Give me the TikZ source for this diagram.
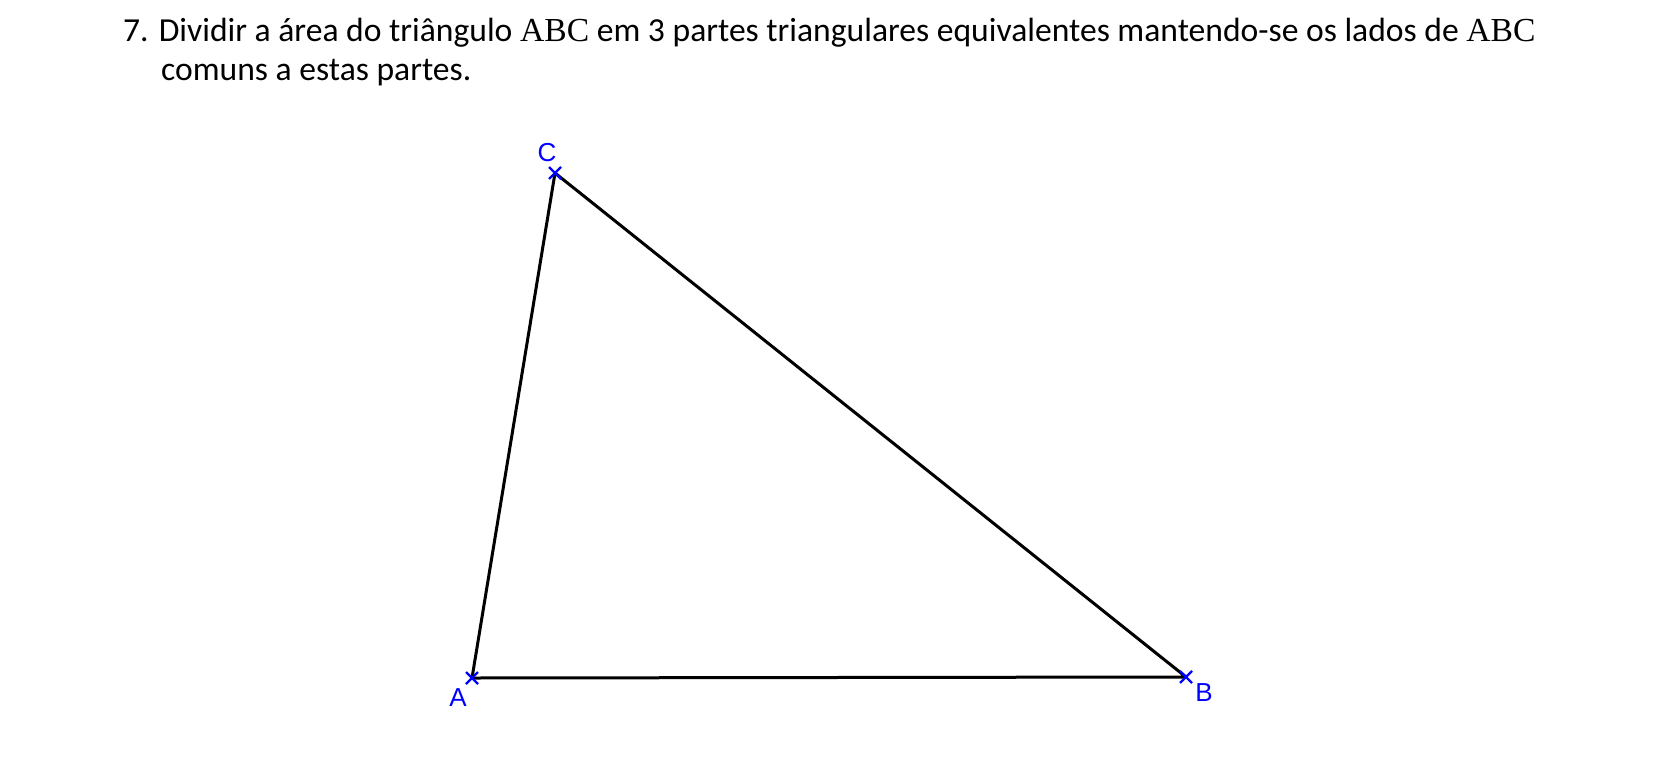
\documentclass[tikz,border=0pt]{standalone}
\usepackage{fontspec}
\usetikzlibrary{calc}
\setmainfont{Carlito}
\newfontfamily\labfont{Liberation Sans}
\newfontfamily\mathser{Liberation Serif}
\definecolor{ptblue}{RGB}{0,0,255}
\begin{document}
\begin{tikzpicture}[x=1pt,y=-1pt,
  side/.style={line width=3pt,black,line join=round},
  ptlabel/.style={font=\labfont\fontsize{26}{26}\selectfont,text=ptblue,inner sep=0pt},
  title/.style={font=\fontsize{33.6}{33.6}\selectfont,inner sep=0pt,anchor=base west}]
\useasboundingbox (0,0) rectangle (1654,777);
\coordinate (A) at (472,678);
\coordinate (B) at (1186,677);
\coordinate (C) at (555,173);
\draw[side] (A) -- (B) -- (C) -- cycle;
\foreach \p in {A,B,C}{
  \draw[ptblue,line width=2.2pt] ($(\p)+(-6,-6)$) -- ($(\p)+(6,6)$) ($(\p)+(-6,6)$) -- ($(\p)+(6,-6)$);
}
\node[ptlabel] (lA) at (458,698) {A};
\node[ptlabel] (lB) at (1204,693) {B};
\node[ptlabel] (lC) at (547,153) {C};
\node[title] (t1) at (123,41) {7. Dividir a área do triângulo {\mathser ABC} em 3 partes triangulares equivalentes mantendo-se os lados de {\mathser ABC}};
\node[title] (t2) at (161,80) {comuns a estas partes.};
\end{tikzpicture}
\end{document}
